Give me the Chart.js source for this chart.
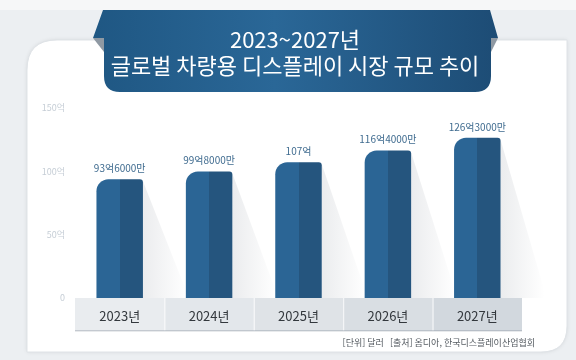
<!DOCTYPE html>
<html lang="ko">
<head>
<meta charset="utf-8">
<script src="https://cdn.jsdelivr.net/npm/chart.js@4/dist/chart.umd.min.js"></script>
<style>
  html, body { margin: 0; padding: 0; background: #eceff2; }
  #wrap { width: 576px; height: 360px; position: relative; }
  canvas { display: block; }
</style>
</head>
<body>
<div id="wrap"><canvas id="c" width="576" height="360"></canvas></div>
<script>
// ---- data ----
const categories = ['2023년', '2024년', '2025년', '2026년', '2027년'];
const marketSize = [93.6, 99.8, 107, 116.4, 126.3]; // 억 달러
const yTicks = [0, 50, 100, 150];
const titleLines = ['2023~2027년', '글로벌 차량용 디스플레이 시장 규모 추이'];
const footerText = '[단위] 달러   [출처] 옴디아, 한국디스플레이산업협회';

const FONT = "'Noto Sans CJK KR', 'Noto Sans', sans-serif";
const BAR_PCT = 0.52;

function fmtValue(v) {
  const eok = Math.floor(v);
  const man = Math.round((v - eok) * 10000);
  return man ? eok + '억' + man + '만' : eok + '억';
}

function twoTone(context) {
  const chart = context.chart;
  const xs = chart.scales && chart.scales.x;
  if (!xs || context.dataIndex === undefined || !isFinite(xs.width) || xs.width <= 0) return '#2b6595';
  const c = xs.getPixelForValue(context.dataIndex);
  const w = xs.width / categories.length * BAR_PCT;
  const g = chart.ctx.createLinearGradient(c - w / 2, 0, c + w / 2, 0);
  g.addColorStop(0, '#2b6595');
  g.addColorStop(0.5, '#2b6595');
  g.addColorStop(0.5, '#25557e');
  g.addColorStop(1, '#25557e');
  return g;
}

const decor = {
  id: 'decor',
  beforeDraw(chart) {
    const ctx = chart.ctx;
    ctx.save();
    ctx.fillStyle = '#eceff2';
    ctx.fillRect(0, 0, 576, 360);
    ctx.fillStyle = '#f6f7f8';
    ctx.fillRect(0, 0, 576, 10);
    // white card
    const L = 27, T = 40, R = 567, B = 352, r1 = 30, r2 = 26;
    ctx.beginPath();
    ctx.moveTo(L + r1, T);
    ctx.lineTo(R, T);
    ctx.lineTo(R, B - r2);
    ctx.quadraticCurveTo(R, B, R - r2, B);
    ctx.lineTo(L, B);
    ctx.lineTo(L, T + r1);
    ctx.quadraticCurveTo(L, T, L + r1, T);
    ctx.closePath();
    ctx.shadowColor = 'rgba(0,0,0,0.10)';
    ctx.shadowBlur = 4;
    ctx.fillStyle = '#ffffff';
    ctx.fill();
    ctx.shadowBlur = 0;
    ctx.strokeStyle = '#dfe3e7';
    ctx.lineWidth = 1;
    ctx.stroke();

    // ribbon folds
    ctx.fillStyle = '#8f99a3';
    ctx.beginPath(); ctx.moveTo(93, 38); ctx.lineTo(104, 38); ctx.lineTo(104, 52); ctx.closePath(); ctx.fill();
    ctx.beginPath(); ctx.moveTo(498, 38); ctx.lineTo(491, 38); ctx.lineTo(491, 52); ctx.closePath(); ctx.fill();

    // banner
    const g = ctx.createLinearGradient(93, 0, 498, 0);
    g.addColorStop(0, '#1f5783');
    g.addColorStop(0.45, '#2a6797');
    g.addColorStop(1, '#1d4c75');
    ctx.fillStyle = g;
    ctx.beginPath();
    ctx.moveTo(103, 10);
    ctx.lineTo(490, 10);
    ctx.lineTo(498, 38);
    ctx.lineTo(491, 38);
    ctx.lineTo(491, 76);
    ctx.quadraticCurveTo(491, 92, 475, 92);
    ctx.lineTo(120, 92);
    ctx.quadraticCurveTo(104, 92, 104, 76);
    ctx.lineTo(104, 38);
    ctx.lineTo(93, 38);
    ctx.closePath();
    ctx.fill();

    // category band under x labels
    const xs = chart.scales.x;
    const area = chart.chartArea;
    const n = categories.length;
    const shades = ['#e9ecef', '#e3e7eb', '#dfe3e7', '#d9dee3', '#d2d8de'];
    const bandTop = area.bottom, bandBot = area.bottom + 33;
    for (let i = 0; i < n; i++) {
      const c = xs.getPixelForValue(i);
      const half = (xs.width / n) / 2;
      ctx.fillStyle = shades[i];
      ctx.fillRect(c - half, bandTop, half * 2, bandBot - bandTop);
      if (i > 0) {
        ctx.fillStyle = 'rgba(255,255,255,0.8)';
        ctx.fillRect(c - half, bandTop, 1, bandBot - bandTop);
      }
    }
    ctx.fillStyle = 'rgba(150,160,170,0.45)';
    ctx.fillRect(area.left, bandBot - 1, area.right - area.left, 1.5);

    // footer
    ctx.font = '9px ' + FONT;
    ctx.fillStyle = '#555b61';
    ctx.textAlign = 'right';
    ctx.textBaseline = 'middle';
    ctx.fillText(footerText, 535, 343);
    ctx.restore();
  },
  beforeDatasetsDraw(chart) {
    const ctx = chart.ctx;
    const meta = chart.getDatasetMeta(0);
    const base = chart.chartArea.bottom;
    ctx.save();
    meta.data.forEach((bar) => {
      const right = bar.x + bar.width / 2;
      const sg = ctx.createLinearGradient(right, 0, right + 44, 0);
      sg.addColorStop(0, 'rgba(90,100,115,0.12)');
      sg.addColorStop(1, 'rgba(90,100,115,0)');
      ctx.fillStyle = sg;
      ctx.beginPath();
      ctx.moveTo(right, bar.y + 2);
      ctx.lineTo(right + 46, base);
      ctx.lineTo(right, base);
      ctx.closePath();
      ctx.fill();
    });
    ctx.restore();
  },
  afterDatasetsDraw(chart) {
    const ctx = chart.ctx;
    const meta = chart.getDatasetMeta(0);
    ctx.save();
    ctx.font = '10px ' + FONT;
    ctx.fillStyle = '#3f6b8f';
    ctx.textAlign = 'center';
    ctx.textBaseline = 'middle';
    meta.data.forEach((bar, i) => {
      ctx.fillText(fmtValue(marketSize[i]), bar.x, bar.y - 11);
    });
    ctx.restore();
  }
};

new Chart(document.getElementById('c'), {
  type: 'bar',
  data: {
    labels: categories,
    datasets: [{
      data: marketSize,
      backgroundColor: twoTone,
      borderWidth: 0,
      borderSkipped: 'bottom',
      borderRadius: { topLeft: 12, topRight: 3, bottomLeft: 0, bottomRight: 0 },
      categoryPercentage: 1,
      barPercentage: BAR_PCT
    }]
  },
  options: {
    responsive: false,
    animation: false,
    events: [],
    layout: { padding: { top: 26, left: 20, right: 6, bottom: 27 } },
    plugins: {
      legend: { display: false },
      tooltip: { enabled: false },
      title: {
        display: true,
        text: titleLines,
        color: '#ffffff',
        font: { family: FONT, size: 22, weight: 'normal', lineHeight: 1.2 },
        padding: { top: 0, bottom: 29 }
      }
    },
    scales: {
      x: {
        grid: { display: false, drawTicks: false },
        border: { display: false },
        ticks: { color: '#33383d', font: { family: FONT, size: 13 }, padding: 10 },
        afterFit(s) { s.height = 35; }
      },
      y: {
        min: 0, max: 150,
        afterBuildTicks(s) { s.ticks = yTicks.map(v => ({ value: v })); },
        grid: { display: false, drawTicks: false },
        border: { display: false },
        ticks: {
          color: '#c6ced6',
          font: { family: FONT, size: 9 },
          padding: 10,
          callback: (v) => (v === 0 ? '0' : v + '억')
        },
        afterFit(s) { s.width = 55; }
      },
      yRight: {
        position: 'right',
        display: true,
        min: 0, max: 150,
        grid: { display: false, drawTicks: false },
        border: { display: false },
        ticks: { display: false },
        afterFit(s) { s.width = 48; }
      }
    }
  },
  plugins: [decor]
});
</script>
</body>
</html>
